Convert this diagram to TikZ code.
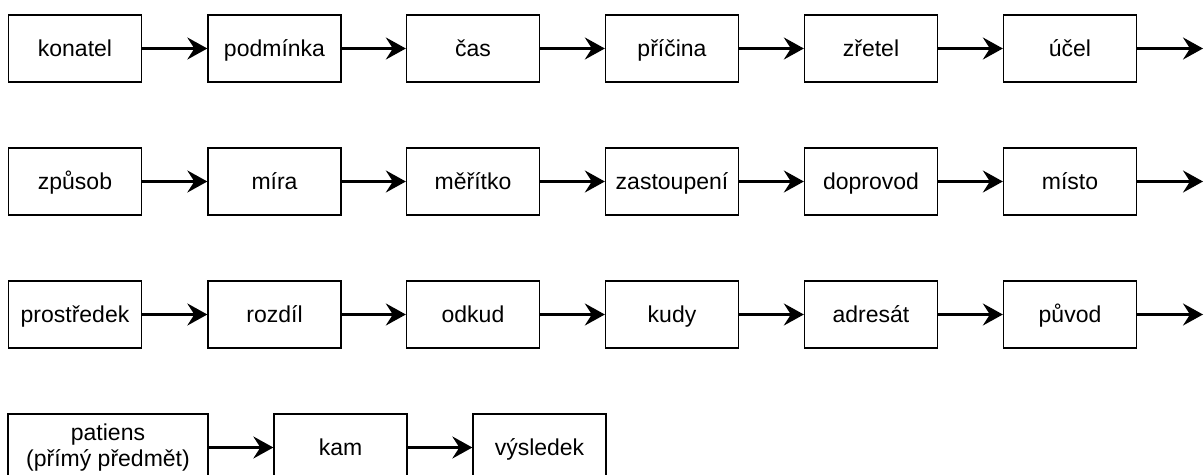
\documentclass[tikz,border=0pt]{standalone}
\usepackage{fontspec}
\setmainfont{Liberation Sans}
\usetikzlibrary{arrows.meta}

\begin{document}
\begin{tikzpicture}[x=0.5pt,y=-0.5pt]
\tikzstyle{every node}+=[font=\fontsize{11.5}{13}\selectfont]
\tikzstyle{box}=[draw=black, line width=0.65pt, minimum width=66.5pt, minimum height=33.5pt, inner sep=0pt, text height=9.5pt, text depth=1.3pt]
\tikzstyle{wide}=[draw=black, line width=0.65pt, minimum width=100pt, minimum height=33.5pt, inner sep=0pt, align=center]
\tikzstyle{link}=[line width=1.3pt, -{Stealth[length=10pt, width=11pt, inset=3.5pt]}]
\useasboundingbox (0,0) rectangle (1204,475);
% row 1
\node [box] (konatel) at (75,48.5) {konatel};
\node [box] (podminka) at (274.5,48.5) {podmínka};
\node [box] (cas) at (473,48.5) {čas};
\node [box] (pricina) at (672,48.5) {příčina};
\node [box] (zretel) at (871,48.5) {zřetel};
\node [box] (ucel) at (1070,48.5) {účel};
\coordinate (endA) at (1203,48.5);
\draw [link] (konatel) -- (podminka);
\draw [link] (podminka) -- (cas);
\draw [link] (cas) -- (pricina);
\draw [link] (pricina) -- (zretel);
\draw [link] (zretel) -- (ucel);
\draw [link] (ucel) -- (endA);
% row 2
\node [box] (zpusob) at (75,181.5) {způsob};
\node [box] (mira) at (274.5,181.5) {míra};
\node [box] (meritko) at (473,181.5) {měřítko};
\node [box] (zastoupeni) at (672,181.5) {zastoupení};
\node [box] (doprovod) at (871,181.5) {doprovod};
\node [box] (misto) at (1070,181.5) {místo};
\coordinate (endB) at (1203,181.5);
\draw [link] (zpusob) -- (mira);
\draw [link] (mira) -- (meritko);
\draw [link] (meritko) -- (zastoupeni);
\draw [link] (zastoupeni) -- (doprovod);
\draw [link] (doprovod) -- (misto);
\draw [link] (misto) -- (endB);
% row 3
\node [box] (prostredek) at (75,314.5) {prostředek};
\node [box] (rozdil) at (274.5,314.5) {rozdíl};
\node [box] (odkud) at (473,314.5) {odkud};
\node [box] (kudy) at (672,314.5) {kudy};
\node [box] (adresat) at (871,314.5) {adresát};
\node [box] (puvod) at (1070,314.5) {původ};
\coordinate (endC) at (1203,314.5);
\draw [link] (prostredek) -- (rozdil);
\draw [link] (rozdil) -- (odkud);
\draw [link] (odkud) -- (kudy);
\draw [link] (kudy) -- (adresat);
\draw [link] (adresat) -- (puvod);
\draw [link] (puvod) -- (endC);
% row 4
\node [wide] (patiens) at (108,447.5) {patiens\\(přímý předmět)};
\node [box] (kam) at (340.5,447.5) {kam};
\node [box] (vysledek) at (539.5,447.5) {výsledek};
\draw [link] (patiens) -- (kam);
\draw [link] (kam) -- (vysledek);
\end{tikzpicture}
\end{document}
